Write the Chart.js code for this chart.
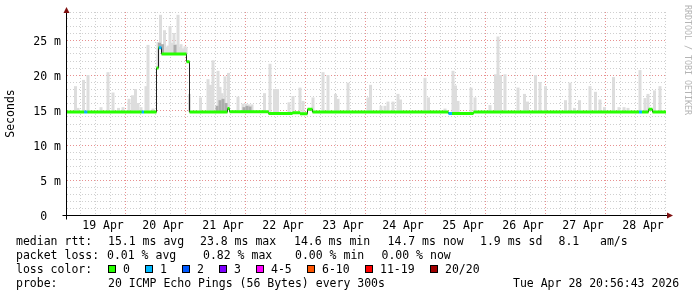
<!DOCTYPE html>
<html>
<head>
<meta charset="utf-8">
<script src="https://cdn.jsdelivr.net/npm/chart.js@4.4.1/dist/chart.umd.min.js"></script>
<style>
  html, body { margin: 0; padding: 0; background: #fff; }
  #wrap { position: relative; width: 697px; height: 297px; overflow: hidden;
          font: 11.5px "DejaVu Sans Mono", monospace; color: #000; }
  #wrap canvas { position: absolute; left: 0; top: 0; }
  .t { position: absolute; white-space: pre; line-height: 14px; }
  .box { position: absolute; width: 6px; height: 6px; border: 1px solid #000; }
  #credit { position: absolute; left: 683px; top: 5px; writing-mode: vertical-rl;
            font: 8.3px "DejaVu Sans Mono", monospace; color: #b4b4b4; white-space: pre; line-height: 9px; }
</style>
</head>
<body>
<div id="wrap">
  <canvas id="graph" width="697" height="297"></canvas>
  <div id="credit">RRDTOOL / TOBI OETIKER</div>
  <div id="legend"></div>
</div>
<script>
// time axis: hours since 19 Apr 00:00, window ends Tue Apr 28 20:56
const X_MIN = -2.8;
const X_MAX = 237.2;
const dayLabels = ['19 Apr', '20 Apr', '21 Apr', '22 Apr', '23 Apr', '24 Apr', '25 Apr', '26 Apr', '27 Apr', '28 Apr'];

// median rtt (ms), step values: each holds until the next hour
const medianHours = [-2.8, 33.4, 34.2, 35.4, 45.4, 46.6, 61.8, 62.6, 78.2, 87.8, 90.8, 93.8, 95.8, 150.2, 160.2, 230.2, 231.8, 237.2];
const medianMs    = [14.7, 21.0, 23.9, 23.0, 21.9, 14.7, 15.2, 14.75, 14.5, 14.6, 14.45, 15.1, 14.7, 14.5, 14.7, 15.1, 14.7, 14.7];

// periods with 1/20 packets lost
const lossStart = [4.5, 27.5, 34.4, 150.2, 226.4];
const lossEnd   = [5.7, 28.4, 35.4, 151.6, 227.6];

// smoke: highest ping (ms) per column, rising from the median
const smokeHours = [
  1.0, 2.0, 4.2, 6.0, 11.2, 14.0, 16.0, 18.2, 20.0, 22.4, 23.8,
  25.0, 26.0, 27.2, 29.2, 30.0, 32.0, 34.0, 35.0, 36.6, 37.6, 38.0, 38.8, 39.6, 40.4, 41.2, 42.0, 42.8, 43.2, 44.0, 44.8, 45.2, 46.6,
  51.0, 54.0, 55.0, 56.0, 58.0, 58.8, 59.6, 60.8, 62.2, 66.0, 68.0, 69.2, 70.4, 71.6,
  76.6, 78.8, 80.6, 81.8, 86.4, 88.0, 90.8, 92.0,
  96.0, 100.0, 102.0, 105.0, 106.0, 110.0, 118.0, 119.0,
  123.2, 124.8, 126.0, 128.0, 130.0, 131.0, 140.8, 142.2,
  148.8, 152.0, 153.0, 154.0, 159.2, 160.8, 166.8,
  169.0, 170.0, 171.0, 172.8, 178.0, 180.6, 181.8, 185.0, 186.8, 189.0,
  197.0, 198.8, 200.6, 202.6, 206.8, 209.0, 210.8, 212.6,
  216.2, 218.4, 220.4, 222.0, 226.8, 228.8, 230.0, 232.6, 234.8
];
const smokeHigh = [
  18.4, 15.3, 19.3, 20.0, 15.4, 20.4, 17.5, 15.3, 15.4, 16.6, 17.1,
  18.0, 16.0, 15.4, 18.4, 24.3, 15.2, 24.7, 28.6, 26.4, 24.0, 24.2, 27.0, 24.6, 26.0, 24.4, 28.6, 24.0, 24.4, 23.8, 24.1, 23.9, 17.3,
  16.8, 19.4, 18.6, 22.1, 20.6, 18.3, 17.4, 19.8, 20.3, 16.9, 15.9, 15.9, 15.8, 15.8,
  17.4, 21.6, 18.0, 18.0, 16.1, 17.0, 18.2, 16.3,
  16.8, 20.4, 20.0, 17.3, 16.6, 18.9, 16.8, 18.6,
  15.6, 15.6, 16.2, 16.2, 17.3, 16.5, 19.6, 16.8,
  15.2, 20.6, 18.5, 16.3, 18.2, 16.8, 15.7,
  20.1, 25.5, 20.0, 20.1, 18.2, 17.3, 16.2, 20.0, 19.0, 18.4,
  16.4, 18.9, 15.3, 16.4, 18.4, 17.6, 16.5, 15.4,
  19.7, 15.4, 15.4, 15.3, 20.7, 16.7, 17.3, 17.8, 18.4
];

// denser smoke close to the median
const denseHours = [34.6, 35.8, 40.8, 57.6, 58.8, 60.0, 61.2, 68.4, 69.6, 70.8];
const denseHigh  = [24.6, 24.4, 24.3, 15.6, 16.4, 16.6, 16.0, 15.4, 15.6, 15.5];

// legend
const rttValues = ['15.1', '23.8', '14.6', '14.7'];
const statNames = ['avg', 'max', 'min', 'now'];
const rttSd = '1.9';
const rttAms = '8.1';
const lossValues = ['0.01', '0.82', '0.00', '0.00'];
const lossNames = ['0', '1', '2', '3', '4-5', '6-10', '11-19', '20/20'];
const lossColors = ['#26ff00', '#00b8ff', '#0059ff', '#7e00ff', '#ff00ff', '#ff5500', '#ff0000', '#a00000'];
const probeText = '20 ICMP Echo Pings (56 Bytes) every 300s';
const stampText = 'Tue Apr 28 20:56:43 2026';

const FONT = { family: 'DejaVu Sans Mono', size: 11.5 };
const MINOR = '#cfcfcf';
const MAJOR = '#e89090';

function medianAt(h) {
    let v = medianMs[0];
    for (let i = 0; i < medianHours.length; i++) {
        if (medianHours[i] <= h) v = medianMs[i];
    }
    return v;
}

// thick loss-coloured pieces of the median, horizontal parts only
const breaks = [...new Set([...medianHours, ...lossStart, ...lossEnd])].sort((a, b) => a - b);
const greenBand = [];
const cyanBand = [];
for (let i = 0; i < breaks.length - 1; i++) {
    const a = breaks[i], b = breaks[i + 1], v = medianAt(a);
    const lossy = lossStart.some((s, k) => a >= s && a < lossEnd[k]);
    (lossy ? cyanBand : greenBand).push({ x: a, y: v }, { x: b, y: v }, { x: b, y: null });
}

const tickHours = [];
for (let h = 0; h <= X_MAX; h += 6) tickHours.push(h);

// axis extensions and rrdtool-style arrows
const axisArrows = {
    id: 'axisArrows',
    afterDraw(chart) {
        const { ctx, chartArea: a } = chart;
        const ax = Math.round(a.left) + 0.5;
        const ay = Math.round(a.bottom) + 0.5;
        ctx.save();
        ctx.strokeStyle = '#000';
        ctx.lineWidth = 1;
        ctx.beginPath();
        ctx.moveTo(ax - 4, ay); ctx.lineTo(a.right + 2, ay);
        ctx.moveTo(ax, a.top - 2); ctx.lineTo(ax, ay + 4);
        ctx.stroke();
        ctx.fillStyle = '#7f1010';
        ctx.beginPath();
        ctx.moveTo(ax, a.top - 5); ctx.lineTo(ax - 3, a.top + 1); ctx.lineTo(ax + 3, a.top + 1);
        ctx.closePath(); ctx.fill();
        ctx.beginPath();
        ctx.moveTo(a.right + 7, ay); ctx.lineTo(a.right + 1, ay - 3); ctx.lineTo(a.right + 1, ay + 3);
        ctx.closePath(); ctx.fill();
        ctx.restore();
    }
};

new Chart(document.getElementById('graph').getContext('2d'), {
    type: 'bar',
    data: {
        datasets: [
            {
                type: 'line', label: 'loss 1', data: cyanBand, order: 0,
                borderColor: lossColors[1], borderWidth: 3, borderCapStyle: 'butt',
                pointRadius: 0, spanGaps: false, fill: false
            },
            {
                type: 'line', label: 'loss 0', data: greenBand, order: 1,
                borderColor: lossColors[0], borderWidth: 3, borderCapStyle: 'butt',
                pointRadius: 0, spanGaps: false, fill: false
            },
            {
                type: 'line', label: 'median', order: 2,
                data: medianHours.map((h, i) => ({ x: h, y: medianMs[i] })),
                borderColor: '#202020', borderWidth: 1, stepped: true,
                pointRadius: 0, fill: false
            },
            {
                label: 'dense smoke', order: 3,
                data: denseHours.map((h, i) => ({ x: h, y: [medianAt(h), denseHigh[i]] })),
                backgroundColor: '#acacac', barThickness: 3, grouped: false,
                borderWidth: 0, inflateAmount: 0
            },
            {
                label: 'smoke', order: 4,
                data: smokeHours.map((h, i) => ({ x: h, y: [medianAt(h), smokeHigh[i]] })),
                backgroundColor: '#dddddd', barThickness: 3, grouped: false,
                borderWidth: 0, inflateAmount: 0
            }
        ]
    },
    options: {
        responsive: false,
        animation: false,
        layout: { padding: { top: 12, right: 31, left: 0, bottom: 0 } },
        plugins: { legend: { display: false }, tooltip: { enabled: false }, title: { display: false } },
        scales: {
            x: {
                type: 'linear',
                min: X_MIN,
                max: X_MAX,
                offset: false,
                afterBuildTicks: s => { s.ticks = tickHours.map(v => ({ value: v })); },
                afterFit: s => { s.height = 82; },
                ticks: {
                    autoSkip: false, maxRotation: 0, minRotation: 0, padding: 4,
                    font: FONT, color: '#000',
                    callback: v => (v % 24 === 12 ? dayLabels[(v - 12) / 24] : '')
                },
                grid: {
                    drawTicks: false, lineWidth: 1,
                    color: c => (c.tick && c.tick.value % 24 === 0 ? MAJOR : MINOR)
                },
                border: { color: '#000', width: 1, dash: [1, 2] }
            },
            y: {
                min: 0,
                max: 29,
                afterFit: s => { s.width = 66; },
                ticks: {
                    stepSize: 1, autoSkip: false, padding: 5, labelOffset: 2,
                    font: FONT, color: '#000',
                    callback: v => (v % 5 === 0 ? (v === 0 ? '0  ' : v + ' m') : '')
                },
                grid: {
                    drawTicks: false, lineWidth: 1,
                    color: c => (c.tick && c.tick.value % 5 === 0 ? MAJOR : MINOR)
                },
                border: { color: '#000', width: 1, dash: [1, 2] },
                title: { display: true, text: 'Seconds', font: FONT, color: '#000', padding: { top: 4, bottom: 0 } }
            }
        }
    },
    plugins: [axisArrows]
});

// legend text below the graph
const legend = document.getElementById('legend');
function put(text, x, y) {
    const d = document.createElement('div');
    d.className = 't';
    d.style.left = x + 'px';
    d.style.top = y + 'px';
    d.textContent = text;
    legend.appendChild(d);
}
const rowTop = [234, 248, 262, 276];
const rttX = [108, 200, 294, 387.5];
const lossX = [107, 203, 295, 381.5];
put('median rtt:', 16, rowTop[0]);
rttValues.forEach((v, i) => put(v + ' ms ' + statNames[i], rttX[i], rowTop[0]));
put(rttSd + ' ms sd', 480, rowTop[0]);
put(rttAms, 558.5, rowTop[0]);
put('am/s', 600, rowTop[0]);
put('packet loss:', 16, rowTop[1]);
lossValues.forEach((v, i) => put(v + ' % ' + statNames[i], lossX[i], rowTop[1]));
put('loss color:', 16, rowTop[2]);
let bx = 108;
lossNames.forEach((name, i) => {
    const b = document.createElement('div');
    b.className = 'box';
    b.style.left = bx + 'px';
    b.style.top = '265px';
    b.style.background = lossColors[i];
    legend.appendChild(b);
    put(name, bx + 15, rowTop[2]);
    bx += 30 + name.length * 7;
});
put('probe:', 16, rowTop[3]);
put(probeText, 108, rowTop[3]);
put(stampText, 513, rowTop[3]);
</script>
</body>
</html>
